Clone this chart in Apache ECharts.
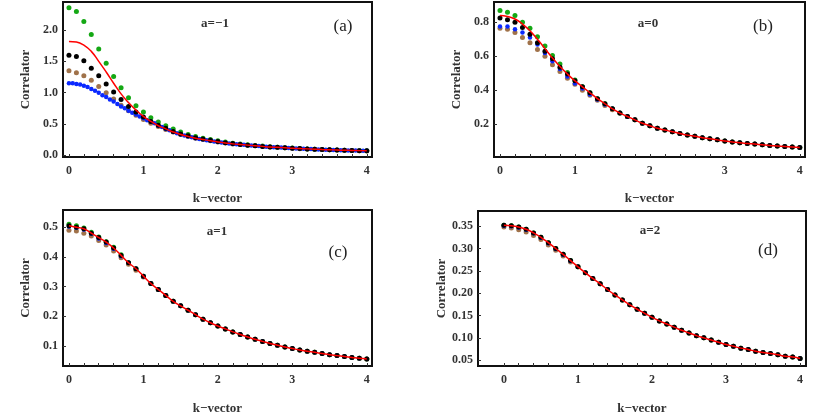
<!DOCTYPE html>
<html>
<head>
<meta charset="utf-8">
<script src="https://cdn.jsdelivr.net/npm/echarts@6/dist/echarts.min.js"></script>
<style>html,body{margin:0;padding:0;background:#fff}#main{width:830px;height:416px}</style>
</head>
<body>
<div id="main"></div>
<script>
// k-vector sample points: 0, 0.1, ... 4

// panel (a), a=-1
const redA = [1.82,1.81,1.76,1.66,1.50,1.33,1.15,0.98,0.84,0.72,0.62,0.54,0.47,0.42,0.37,0.33,0.30,0.27,0.25,0.23,0.21,0.195,0.18,0.17,0.16,0.15,0.14,0.13,0.125,0.118,0.11,0.105,0.10,0.095,0.09,0.086,0.082,0.078,0.075,0.072,0.069];
const greenA = [2.36,2.30,2.14,1.93,1.70,1.47,1.26,1.08,0.92,0.79,0.69,0.60,0.53,0.47,0.42,0.37,0.33,0.30,0.27,0.25,0.23,0.21,0.19,0.18,0.165,0.155,0.145,0.135,0.127,0.12,0.113,0.107,0.10,0.096,0.092,0.087,0.083,0.08,0.076,0.073,0.07];
const blackA = [1.60,1.58,1.51,1.39,1.27,1.14,1.01,0.89,0.78,0.69,0.61,0.54,0.48,0.43,0.38,0.34,0.31,0.28,0.26,0.24,0.22,0.20,0.185,0.17,0.16,0.15,0.14,0.132,0.125,0.118,0.11,0.105,0.10,0.095,0.09,0.086,0.082,0.078,0.075,0.072,0.069];
const brownA = [1.35,1.32,1.27,1.20,1.10,1.00,0.90,0.80,0.71,0.64,0.57,0.51,0.46,0.41,0.37,0.33,0.30,0.27,0.25,0.23,0.21,0.195,0.18,0.17,0.16,0.15,0.14,0.13,0.124,0.117,0.11,0.104,0.099,0.094,0.09,0.085,0.081,0.078,0.074,0.071,0.068];
// blue is sampled every 0.05
const blueA = [1.15,1.15,1.14,1.13,1.11,1.09,1.06,1.03,1.00,0.96,0.93,0.89,0.86,0.82,0.78,0.75,0.71,0.68,0.65,0.62,0.59,
  0.56,0.535,0.51,0.47,0.45,0.42,0.40,0.37,0.35,0.33,0.315,0.30,0.285,0.27,0.26,0.25,0.24,0.23,0.22,0.21,
  .203,.195,.188,.18,.175,.17,.165,.16,.155,.15,.145,.14,.135,.13,.127,.125,.121,.118,.114,.11,.108,.105,.102,.10,.097,.095,.092,.09,.088,.086,.084,.082,.08,.078,.076,.075,.073,.072,.07,.069];

// panel (b), a=0 ; shared tail from k=1.6
const tailB = [0.265,0.245,0.225,0.205,0.19,0.175,0.165,0.155,0.145,0.135,0.128,0.12,0.113,0.107,0.10,0.095,0.09,0.086,0.082,0.078,0.074,0.071,0.068,0.065,0.062];
const redB = [0.84,0.835,0.82,0.79,0.75,0.70,0.645,0.59,0.54,0.495,0.455,0.42,0.385,0.35,0.32,0.29].concat(tailB);
const greenB = [0.87,0.86,0.84,0.80,0.765,0.715,0.66,0.605,0.555,0.505,0.46,0.42,0.385,0.35,0.32,0.29].concat(tailB);
const blackB = [0.825,0.815,0.80,0.77,0.73,0.68,0.63,0.585,0.535,0.495,0.455,0.42,0.385,0.35,0.32,0.29].concat(tailB);
const brownB = [0.765,0.76,0.74,0.71,0.68,0.64,0.60,0.55,0.51,0.47,0.435,0.40,0.37,0.34,0.31,0.285].concat(tailB);
const blueB = [0.775,0.775,0.76,0.74,0.71,0.67,0.62,0.57,0.525,0.48,0.44,0.41,0.375,0.345,0.315,0.29].concat(tailB);

// panel (c), a=1
const tailC = [0.38,0.36,0.335,0.31,0.29,0.27,0.25,0.235,0.22,0.205,0.19,0.178,0.167,0.157,0.147,0.138,0.13,0.122,0.115,0.108,0.102,0.096,0.091,0.086,0.082,0.078,0.074,0.07,0.067,0.064,0.061,0.058,0.056];
const redC = [0.505,0.50,0.495,0.48,0.465,0.45,0.43,0.405].concat(tailC);
const greenC = [0.51,0.505,0.497,0.483,0.467,0.451,0.432,0.407].concat(tailC);
const blackC = [0.505,0.50,0.495,0.48,0.465,0.45,0.43,0.405].concat(tailC);
const brownC = [0.49,0.487,0.48,0.47,0.455,0.44,0.42,0.397,0.375,0.355,0.332,0.31].concat(tailC.slice(4));
const blueC = [0.502,0.498,0.492,0.478,0.462,0.447,0.427,0.402].concat(tailC);

// panel (d), a=2
const tailD = [0.259,0.246,0.233,0.221,0.208,0.196,0.185,0.174,0.164,0.155,0.146,0.138,0.131,0.124,0.117,0.111,0.105,0.1,0.095,0.09,0.085,0.081,0.077,0.074,0.07,0.067,0.065,0.062,0.059,0.057,0.054];
const redD = [0.352,0.351,0.348,0.343,0.335,0.325,0.313,0.30,0.287,0.273].concat(tailD);
const brownD = [0.348,0.346,0.342,0.337,0.329,0.32,0.308,0.296,0.283,0.27].concat(tailD);
const blueD = [0.351,0.35,0.347,0.342,0.334,0.324,0.312,0.299,0.286,0.272].concat(tailD);
const blackD = redD;
const greenD = redD;

const xTicks = [0, 1, 2, 3, 4];

const colors = { green: '#14a814', brown: '#a0724a', blue: '#0a28ff', red: '#ff0000', black: '#000' };
const serif = 'Liberation Serif';

const panels = [
  { rect: [63, 2, 309, 155], x: [-0.08, 4.07], y: [-0.03, 2.45], yTicks: [0, 0.5, 1, 1.5, 2], dig: 1, yGap: 31, xGap: 35,
    red: redA, green: greenA, black: blackA, brown: brownA, blue: blueA, blueStep: 0.05,
    tag: 'a=\u22121', tagPos: [215, 24], lab: '(a)', labPos: [343, 27] },
  { rect: [494, 2, 311, 155], x: [-0.08, 4.07], y: [0.006, 0.92], yTicks: [0.2, 0.4, 0.6, 0.8], dig: 1, yGap: 31, xGap: 35,
    red: redB, green: greenB, black: blackB, brown: brownB, blue: blueB, blueStep: 0.1,
    tag: 'a=0', tagPos: [648, 24], lab: '(b)', labPos: [763, 27] },
  { rect: [63, 210, 309, 162], x: [-0.08, 4.07], y: [0.032, 0.558], yTicks: [0.1, 0.2, 0.3, 0.4, 0.5], dig: 1, yGap: 31, xGap: 36,
    red: redC, green: greenC, black: blackC, brown: brownC, blue: blueC, blueStep: 0.1,
    tag: 'a=1', tagPos: [217, 232], lab: '(c)', labPos: [338, 253] },
  { rect: [478, 211, 328, 161], x: [-0.35, 4.08], y: [0.037, 0.384], yTicks: [0.05, 0.1, 0.15, 0.2, 0.25, 0.3, 0.35], dig: 2, yGap: 22, xGap: 36,
    red: redD, green: greenD, black: blackD, brown: brownD, blue: blueD, blueStep: 0.1,
    tag: 'a=2', tagPos: [650, 231], lab: '(d)', labPos: [768, 251] }
];

const pts = (arr, step) => arr.map((v, i) => [+(i * step).toFixed(2), v]);
const minorX = [];
for (let i = 0; i <= 20; i++) minorX.push(+(i * 0.2).toFixed(1));

const grid = [], xAxis = [], yAxis = [], series = [], graphic = [];
panels.forEach((p, i) => {
  grid.push({ left: p.rect[0], top: p.rect[1], width: p.rect[2], height: p.rect[3],
    show: true, borderColor: '#111', borderWidth: 2, backgroundColor: 'transparent' });
  xAxis.push({ gridIndex: i, type: 'value', min: p.x[0], max: p.x[1],
    name: 'k\u2212vector', nameLocation: 'middle', nameGap: p.xGap,
    nameTextStyle: { fontFamily: serif, fontWeight: 'bold', fontSize: 13, color: '#333' },
    axisLine: { show: false, onZero: false }, splitLine: { show: false },
    axisTick: { inside: true, length: 3, customValues: minorX, lineStyle: { color: '#333' } },
    axisLabel: { customValues: xTicks, fontFamily: serif, fontWeight: 'bold', fontSize: 12, color: '#333', margin: 8 } });
  yAxis.push({ gridIndex: i, type: 'value', min: p.y[0], max: p.y[1],
    name: 'Correlator', nameLocation: 'middle', nameGap: p.yGap,
    nameTextStyle: { fontFamily: serif, fontWeight: 'bold', fontSize: 13, color: '#333' },
    axisLine: { show: false, onZero: false }, splitLine: { show: false },
    axisTick: { inside: true, length: 3, customValues: p.yTicks, lineStyle: { color: '#333' } },
    axisLabel: { customValues: p.yTicks, formatter: v => v.toFixed(p.dig), fontFamily: serif, fontWeight: 'bold', fontSize: 12, color: '#333', margin: 5 } });
  const dots = (name, data, size) => ({ type: 'scatter', name, xAxisIndex: i, yAxisIndex: i, data,
    symbolSize: size, itemStyle: { color: colors[name], opacity: 1 }, silent: true, animation: false });
  series.push(dots('green', pts(p.green, 0.1), 5));
  series.push(dots('brown', pts(p.brown, 0.1), 5));
  series.push({ type: 'line', xAxisIndex: i, yAxisIndex: i, data: pts(p.red, 0.1), smooth: true,
    showSymbol: false, lineStyle: { color: colors.red, width: 1.5 }, silent: true, animation: false });
  series.push(dots('blue', pts(p.blue, p.blueStep), 4.5));
  series.push(dots('black', pts(p.black, 0.1), 5));
  graphic.push({ type: 'text', x: p.tagPos[0], y: p.tagPos[1],
    style: { text: p.tag, font: 'bold 13px "Liberation Serif"', fill: '#333', align: 'center', verticalAlign: 'middle' } });
  graphic.push({ type: 'text', x: p.labPos[0], y: p.labPos[1],
    style: { text: p.lab, font: '17px "Liberation Serif"', fill: '#222', align: 'center', verticalAlign: 'middle' } });
});

const chart = echarts.init(document.getElementById('main'));
chart.setOption({ animation: false, grid, xAxis, yAxis, series, graphic });
</script>
</body>
</html>
